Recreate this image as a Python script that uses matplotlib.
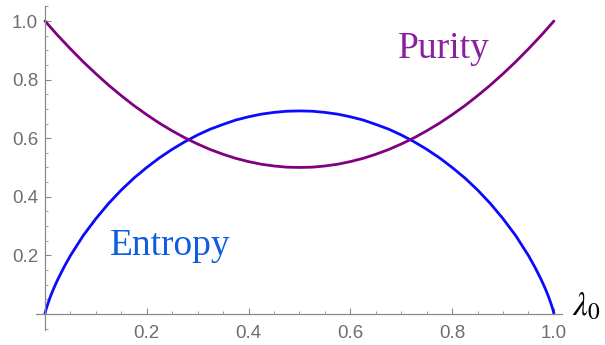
import numpy as np
import matplotlib.pyplot as plt
from matplotlib.ticker import MultipleLocator

# ── Curve samples ─────────────────────────────────────────────────────────────
lam_entropy = [0, 0.001, 0.0025, 0.005, 0.01, 0.015, 0.02, 0.025, 0.0375,
               0.05, 0.075, 0.1, 0.125, 0.15, 0.175, 0.2, 0.225, 0.25, 0.275,
               0.3, 0.325, 0.35, 0.375, 0.4, 0.425, 0.45, 0.475, 0.5,
               0.525, 0.55, 0.575, 0.6, 0.625, 0.65, 0.675, 0.7, 0.725,
               0.75, 0.775, 0.8, 0.825, 0.85, 0.875, 0.9, 0.925, 0.95,
               0.9625, 0.975, 0.98, 0.985, 0.99, 0.995, 0.9975, 0.999, 1.0]
entropy = [0, 0.008, 0.0175, 0.031, 0.056, 0.078, 0.098, 0.117, 0.160,
           0.199, 0.267, 0.325, 0.377, 0.423, 0.464, 0.500, 0.533, 0.562,
           0.588, 0.611, 0.631, 0.647, 0.662, 0.673, 0.682, 0.688, 0.692,
           0.693,
           0.692, 0.688, 0.682, 0.673, 0.662, 0.647, 0.631, 0.611, 0.588,
           0.562, 0.533, 0.500, 0.464, 0.423, 0.377, 0.325, 0.267, 0.199,
           0.160, 0.117, 0.098, 0.078, 0.056, 0.031, 0.0175, 0.008, 0]

lam_purity = [0, 0.025, 0.05, 0.075, 0.1, 0.125, 0.15, 0.175, 0.2, 0.225,
              0.25, 0.275, 0.3, 0.325, 0.35, 0.375, 0.4, 0.425, 0.45, 0.475,
              0.5, 0.525, 0.55, 0.575, 0.6, 0.625, 0.65, 0.675, 0.7, 0.725,
              0.75, 0.775, 0.8, 0.825, 0.85, 0.875, 0.9, 0.925, 0.95, 0.975,
              1.0]
purity = [1.0, 0.951, 0.905, 0.861, 0.82, 0.781, 0.745, 0.711, 0.68, 0.651,
          0.625, 0.601, 0.58, 0.561, 0.545, 0.531, 0.52, 0.511, 0.505, 0.501,
          0.5, 0.501, 0.505, 0.511, 0.52, 0.531, 0.545, 0.561, 0.58, 0.601,
          0.625, 0.651, 0.68, 0.711, 0.745, 0.781, 0.82, 0.861, 0.905, 0.951,
          1.0]

x_ticks = [0.2, 0.4, 0.6, 0.8, 1.0]
y_ticks = [0.2, 0.4, 0.6, 0.8, 1.0]

BLUE   = "#0a0aff"
PURPLE = "#800080"
AXIS   = "#8a8a8a"
TICKLB = "#6e6e6e"

plt.rcParams["mathtext.fontset"] = "stix"

fig = plt.figure(figsize=(6.05, 3.45), dpi=100)
ax = fig.add_axes([0.0592, 0.0435, 0.869, 0.938])

ax.plot(lam_entropy, entropy, color=BLUE, lw=2.0, solid_capstyle="round",
        solid_joinstyle="round")
ax.plot(lam_purity, purity, color=PURPLE, lw=2.0, solid_capstyle="round",
        solid_joinstyle="round")

ax.set_xlim(-0.018, 1.015)
ax.set_ylim(-0.055, 1.05)

# axes crossing at the origin, no frame
for s in ("top", "right"):
    ax.spines[s].set_visible(False)
ax.spines["left"].set_position(("data", 0))
ax.spines["bottom"].set_position(("data", 0))
for s in ("left", "bottom"):
    ax.spines[s].set_color(AXIS)
    ax.spines[s].set_linewidth(0.9)

ax.set_xticks(x_ticks)
ax.set_yticks(y_ticks)
ax.set_xticklabels([f"{v:.1f}" for v in x_ticks], family="Liberation Sans")
ax.set_yticklabels([f"{v:.1f}" for v in y_ticks], family="Liberation Sans")
ax.xaxis.set_minor_locator(MultipleLocator(0.05))
ax.yaxis.set_minor_locator(MultipleLocator(0.05))
ax.tick_params(which="major", direction="in", length=4, width=0.8,
               color=AXIS, labelcolor=TICKLB, labelsize=13.5)
ax.tick_params(which="minor", direction="in", length=2.2, width=0.6,
               color=AXIS)
ax.tick_params(axis="x", pad=8)
ax.tick_params(axis="y", pad=5)

ax.text(0.128, 0.20, "Entropy", color="#0f5ee0", fontsize=27,
        family="Liberation Serif", ha="left", va="baseline")
ax.text(0.694, 0.874, "Purity", color="#8a1fa0", fontsize=27,
        family="Liberation Serif", ha="left", va="baseline")

fig.text(0.945, 0.085, r"$\lambda_0$", fontsize=24, color="black",
         ha="left", va="baseline")

fig.savefig("out.png", dpi=100)
